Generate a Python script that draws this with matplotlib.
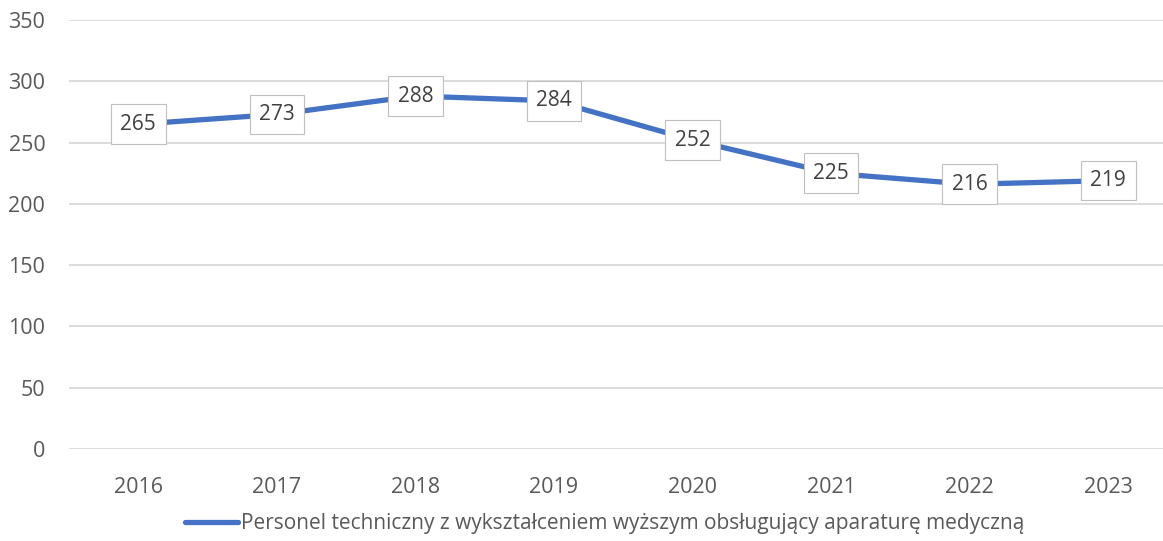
import matplotlib.pyplot as plt

lata = ['2016', '2017', '2018', '2019', '2020', '2021', '2022', '2023']
personel = [265, 273, 288, 284, 252, 225, 216, 219]
nazwa = 'Personel techniczny z wykształceniem wyższym obsługujący aparaturę medyczną'

plt.rcParams['font.family'] = ['Open Sans', 'DejaVu Sans']

fig = plt.figure(figsize=(11.63, 5.41), dpi=100)
ax = fig.add_axes([0.0593, 0.170, 1 - 0.0593, 0.963 - 0.170])

x = list(range(len(lata)))
ax.plot(x, personel, color='#4472C4', linewidth=3.8, solid_capstyle='round', label=nazwa, zorder=3)

# etykiety danych w ramkach
for xi, v in zip(x, personel):
    ax.text(xi, v, str(v), ha='center', va='center', fontsize=15, color='#404040', zorder=4,
            bbox=dict(boxstyle='square,pad=0.45', facecolor='white', edgecolor='#BFBFBF', linewidth=0.8))

ax.set_xlim(-0.5, 7.395)
ax.set_ylim(0, 350)
ax.set_yticks(range(0, 351, 50))
ax.set_xticks(x)
ax.set_xticklabels(lata)
ax.grid(axis='y', color='#D9D9D9', linewidth=1.3)
ax.set_axisbelow(True)
for s in ax.spines.values():
    s.set_visible(False)
ax.tick_params(length=0, labelsize=15.5, labelcolor='#595959')
ax.tick_params(axis='y', pad=17)
ax.tick_params(axis='x', pad=20)

leg = fig.legend(loc='center', bbox_to_anchor=(0.52, 0.032), frameon=False, fontsize=15,
                 handlelength=2.5, handletextpad=0.15)
for t in leg.get_texts():
    t.set_color('#595959')

fig.savefig('out.png', dpi=100)
